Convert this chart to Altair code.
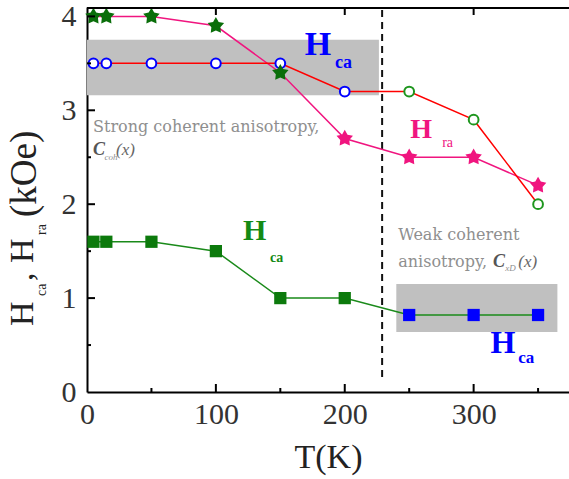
import altair as alt
import pandas as pd

# Temperature points (K) and the three field series (kOe)
T = [5, 15, 50, 100, 150, 200, 250, 300, 350]
H_STAR = [4.0, 4.0, 4.0, 3.9, 3.4, 2.7, 2.5, 2.5, 2.2]
H_CIRCLE = [3.5, 3.5, 3.5, 3.5, 3.5, 3.2, 3.2, 2.9, 2.0]
H_SQUARE = [1.6, 1.6, 1.6, 1.5, 1.0, 1.0, 0.82, 0.82, 0.82]

# Which regime each point belongs to (sets the marker colour)
STAR_PART = ["low", "low", "low", "low", "low", "high", "high", "high", "high"]
CIRCLE_PART = ["low", "low", "low", "low", "low", "low", "high", "high", "high"]
SQUARE_PART = ["low", "low", "low", "low", "low", "low", "high", "high", "high"]

# Shaded regions (T0, T1, H0, H1) and the regime boundary
BOX_T0 = [0, 240]
BOX_T1 = [226.5, 365]
BOX_H0 = [3.16, 0.64]
BOX_H1 = [3.75, 1.15]
BOUNDARY_T = [229]
BOUNDARY_H0 = [0.16]
BOUNDARY_H1 = [4.1]

X_TICKS = [0, 100, 200, 300]
X_MINOR = [50, 150, 250, 350]
Y_TICKS = [0, 1, 2, 3, 4]
Y_MINOR = [0.5, 1.5, 2.5, 3.5]

W, H = 482, 385
SERIF = "Liberation Serif"
GREEN = "#0c7a0c"
MAGENTA = "#f0157f"
BLUE = "#0000ff"

xs = alt.Scale(domain=[0, 374], nice=False, zero=False)
ys = alt.Scale(domain=[0, 4.1], nice=False, zero=False)

x_axis = alt.Axis(
    values=X_TICKS, format="d", ticks=False, grid=False, labelFlush=False,
    labelFont=SERIF, labelFontSize=30, labelColor="#333", labelPadding=7,
    domainColor="black", domainWidth=2,
    title="T(K)", titleFont=SERIF, titleFontSize=34, titleFontWeight="normal",
    titleColor="#222", titlePadding=11)
y_axis = alt.Axis(
    values=Y_TICKS, format="d", ticks=False, grid=False, labelFlush=False,
    labelFont=SERIF, labelFontSize=30, labelColor="#333", labelPadding=11,
    domainColor="black", domainWidth=2, title=None)

STAR = ("M0,-1L0.32,-0.44L0.95,-0.31L0.52,0.17L0.59,0.81L0,0.55"
        "L-0.59,0.81L-0.52,0.17L-0.95,-0.31L-0.32,-0.44Z")


def X(field):
    return alt.X(field, type="quantitative", scale=xs, axis=x_axis)


def Y(field):
    return alt.Y(field, type="quantitative", scale=ys, axis=y_axis)


boxes = pd.DataFrame({"T0": BOX_T0, "T1": BOX_T1, "H0": BOX_H0, "H1": BOX_H1})
box_layer = alt.Chart(boxes).mark_rect(color="#c0c0c0").encode(
    x=X("T0"), x2="T1:Q", y=Y("H0"), y2="H1:Q")

boundary = pd.DataFrame({"T": BOUNDARY_T, "H0": BOUNDARY_H0, "H1": BOUNDARY_H1})
boundary_layer = alt.Chart(boundary).mark_rule(
    color="#111", strokeWidth=2, strokeDash=[7, 5]).encode(
    x=X("T"), y=Y("H0"), y2="H1:Q")

stars = pd.DataFrame({"T": T, "H": H_STAR, "part": STAR_PART})
circles = pd.DataFrame({"T": T, "H": H_CIRCLE, "part": CIRCLE_PART})
squares = pd.DataFrame({"T": T, "H": H_SQUARE, "part": SQUARE_PART})

star_line = alt.Chart(stars).mark_line(color=MAGENTA, strokeWidth=1.5).encode(
    x=X("T"), y=Y("H"))
circle_line = alt.Chart(circles).mark_line(color="#ff0000", strokeWidth=1.5).encode(
    x=X("T"), y=Y("H"))
square_line = alt.Chart(squares).mark_line(color="#1a8a1a", strokeWidth=1.5).encode(
    x=X("T"), y=Y("H"))

star_pts = alt.Chart(stars).mark_point(
    shape=STAR, size=300, filled=True, opacity=1).encode(
    x=X("T"), y=Y("H"),
    color=alt.Color("part:N", legend=None,
                    scale=alt.Scale(domain=["low", "high"], range=["#0a6e0a", MAGENTA])))
circle_pts = alt.Chart(circles).mark_point(
    shape="circle", size=95, filled=False, fill="white", strokeWidth=2, opacity=1).encode(
    x=X("T"), y=Y("H"),
    stroke=alt.Stroke("part:N", legend=None,
                      scale=alt.Scale(domain=["low", "high"], range=[BLUE, "#1e961e"])))
square_pts = alt.Chart(squares).mark_point(
    shape="square", size=150, filled=True, opacity=1).encode(
    x=X("T"), y=Y("H"),
    fill=alt.Fill("part:N", legend=None,
                  scale=alt.Scale(domain=["low", "high"], range=[GREEN, BLUE])))


def label(text, t, h, size, color, weight="bold", font=SERIF, style="normal"):
    df = pd.DataFrame({"T": [t], "H": [h], "txt": [text]})
    return alt.Chart(df).mark_text(
        align="left", baseline="alphabetic", font=font, fontSize=size,
        fontWeight=weight, fontStyle=style, color=color).encode(
        x=X("T"), y=Y("H"), text="txt:N")


labels = [
    label("H", 169, 3.59, 34, BLUE), label("ca", 192.5, 3.45, 18, BLUE),
    label("H", 250.8, 2.705, 28, MAGENTA), label("ra", 275.6, 2.61, 14, MAGENTA, "normal"),
    label("H", 121, 1.62, 30, "#148a14"), label("ca", 142, 1.385, 14, "#148a14"),
    label("H", 313, 0.415, 32, BLUE), label("ca", 334.6, 0.31, 17, BLUE),
]

GRAY = "#8f8f8f"
notes = [
    label("Strong coherent anisotropy,", 4.7, 2.77, 16, GRAY, "normal", "DejaVu Serif"),
    label("C", 4.7, 2.52, 18, "#555", "bold", SERIF, "italic"),
    label("coh", 13.5, 2.47, 9, GRAY, "normal", SERIF, "italic"),
    label("(x)", 22.5, 2.52, 17, "#666", "normal", SERIF, "italic"),
    label("Weak coherent", 241.5, 1.62, 16, GRAY, "normal", "DejaVu Serif"),
    label("anisotropy,", 241.5, 1.33, 16, GRAY, "normal", "DejaVu Serif"),
    label("C", 315, 1.33, 18, "#555", "bold", SERIF, "italic"),
    label("xD", 324.5, 1.29, 9, GRAY, "normal", SERIF, "italic"),
    label("(x)", 334.6, 1.33, 17, "#666", "normal", SERIF, "italic"),
]


def ylabel_piece(text, px, py, size):
    df = pd.DataFrame({"txt": [text]})
    return alt.Chart(df).mark_text(
        align="left", baseline="alphabetic", angle=270, font=SERIF,
        fontSize=size, color="#222").encode(
        x=alt.value(px), y=alt.value(py), text="txt:N")


y_title = [
    ylabel_piece("H", -54, 319, 34),
    ylabel_piece("ca", -41, 289, 14),
    ylabel_piece(",", -54, 274, 34),
    ylabel_piece("H", -54, 256, 34),
    ylabel_piece("ra", -41, 228, 14),
    ylabel_piece("(kOe)", -51, 210, 37),
]

# Inward ticks on the bottom, top and left edges, plus the top frame line
xt = pd.DataFrame({"T": X_TICKS[1:]})
xm = pd.DataFrame({"T": X_MINOR})
yt = pd.DataFrame({"H": Y_TICKS[1:]})
ym = pd.DataFrame({"H": Y_MINOR})
tick_style = dict(color="black", strokeWidth=2)
ticks = [
    alt.Chart(xt).mark_rule(**tick_style).encode(x=X("T"), y=alt.value(H), y2=alt.value(H - 8)),
    alt.Chart(xm).mark_rule(**tick_style).encode(x=X("T"), y=alt.value(H), y2=alt.value(H - 4)),
    alt.Chart(xt).mark_rule(**tick_style).encode(x=X("T"), y=alt.value(0), y2=alt.value(8)),
    alt.Chart(yt).mark_rule(**tick_style).encode(y=Y("H"), x=alt.value(0), x2=alt.value(8)),
    alt.Chart(ym).mark_rule(**tick_style).encode(y=Y("H"), x=alt.value(0), x2=alt.value(4)),
    alt.Chart(xt).mark_rule(**tick_style).encode(
        x=alt.value(0), x2=alt.value(W), y=alt.value(1)),
]

chart = alt.layer(
    box_layer, boundary_layer,
    star_line, circle_line, square_line,
    circle_pts, square_pts, star_pts,
    *labels, *notes, *y_title, *ticks,
).resolve_scale(
    color="independent", stroke="independent", fill="independent"
).properties(
    width=W, height=H,
    padding={"left": 87, "top": 7, "right": 0, "bottom": 87},
    autosize=alt.AutoSizeParams(type="none"),
    background="white",
).configure_view(stroke=None)

chart.save("out.html", embed_options={"renderer": "svg", "actions": False})
